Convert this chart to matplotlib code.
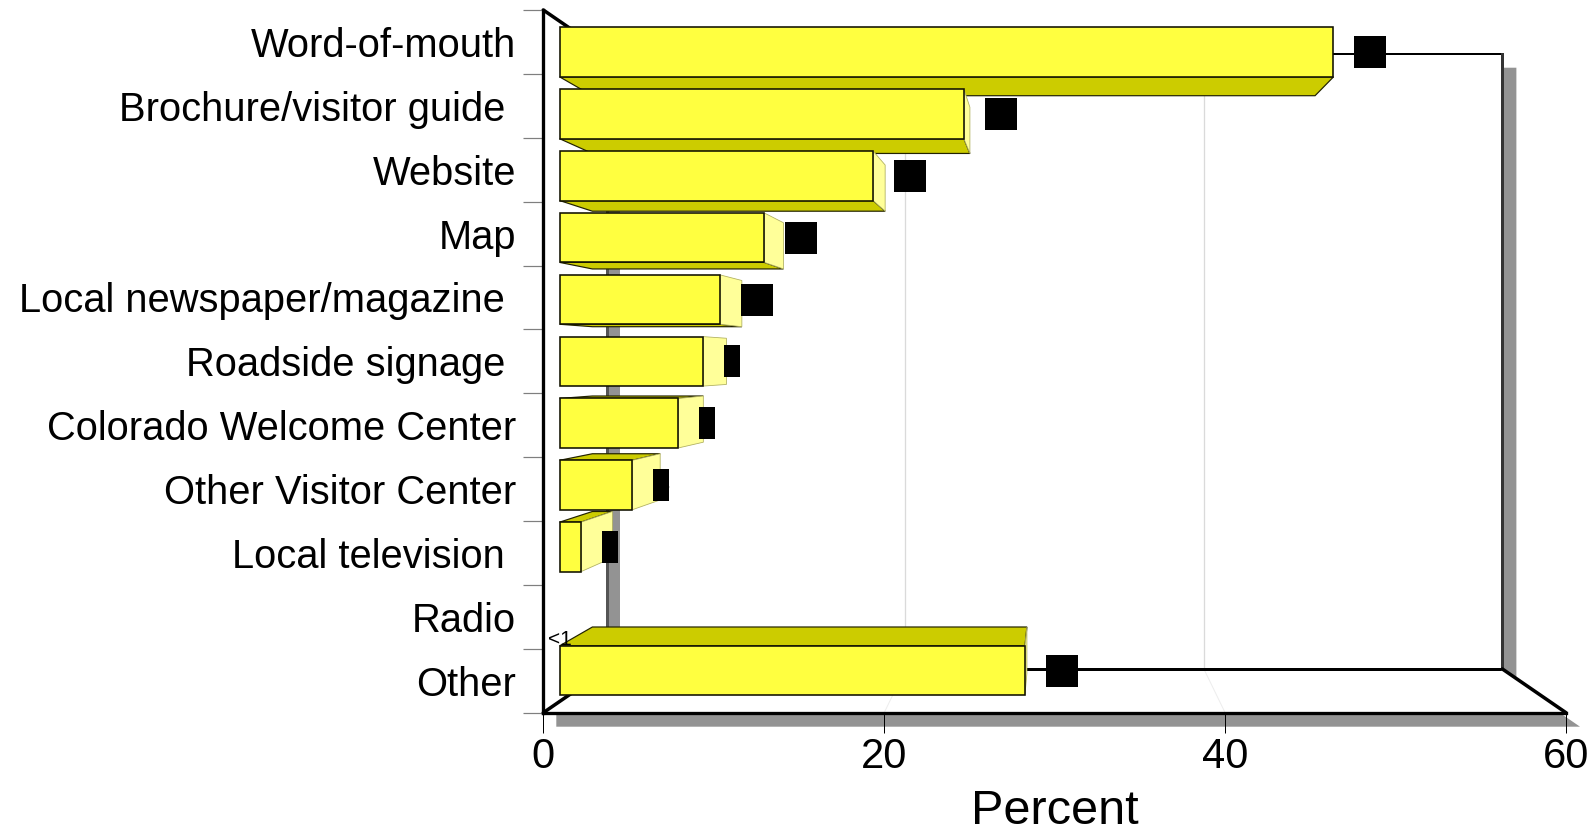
import matplotlib
matplotlib.use("Agg")
import matplotlib.pyplot as plt
from matplotlib.patches import Polygon, Rectangle
from matplotlib import font_manager

# ---- data -------------------------------------------------------------
categories = ["Word-of-mouth", "Brochure/visitor guide ", "Website", "Map",
              "Local newspaper/magazine ", "Roadside signage ",
              "Colorado Welcome Center", "Other Visitor Center",
              "Local television ", "Radio", "Other"]
percent = [46.9, 24.5, 19.0, 12.4, 9.7, 8.7, 7.2, 4.4, 1.3, 0.0, 28.2]
value_labels = ["47", "25", "19", "12", "10", "9", "7", "4", "1", "<1", "28"]
x_ticks = [0, 20, 40, 60]
x_label = "Percent"

# ---- fonts ------------------------------------------------------------
installed = {f.name for f in font_manager.fontManager.ttflist}
if "Liberation Sans Narrow" in installed:
    cat_family, cat_size = "Liberation Sans Narrow", 35
else:
    cat_family, cat_size = "Liberation Sans", 28.7
base_family = "Liberation Sans"

# ---- figure / frame ---------------------------------------------------
W, H, DPI = 1596, 835, 100
fig = plt.figure(figsize=(W / DPI, H / DPI), dpi=DPI)
left_px, right_px, top_px, bottom_px = 543.3, 1566.0, 10.0, 712.7
ax = fig.add_axes([left_px / W, 1 - bottom_px / H,
                   (right_px - left_px) / W, (bottom_px - top_px) / H])
n = len(categories)
XMAX = x_ticks[-1]
ax.set_xlim(0, XMAX)
ax.set_ylim(n - 0.5, -0.5)
ax.patch.set_visible(False)

# pixel -> data unit conversion
PX = XMAX / (right_px - left_px)
PY = n / (bottom_px - top_px)
LW = 0.72  # points per pixel

# perspective: everything recedes toward the centre of the frame
VX, VY = XMAX / 2, (n - 1) / 2
S_FRONT, S_BACK, S_WALL = 0.968, 0.904, 0.8756
HALF = 0.4


def proj(x, y, s):
    return VX + s * (x - VX), VY + s * (y - VY)


ytop, ybot = -0.5, n - 0.5
wl, wt = proj(0, ytop, S_WALL)
wr, wb = proj(XMAX, ybot, S_WALL)

# back wall
ax.add_patch(Rectangle((wl, wt), wr - wl, wb - wt, facecolor="white",
                       edgecolor="none", zorder=0.5))

# drop shadows of the box
SHX, SHY = 14 * PX, 14 * PY
grey = "#939393"
t = SHX / (XMAX - wr)
y_cross = wb + t * (ybot - wb)
ax.add_patch(Polygon([(wr, wt + SHY), (wr + SHX, wt + SHY),
                      (wr + SHX, y_cross), (wr, wb)],
                     closed=True, facecolor=grey, edgecolor="none",
                     zorder=0.6, clip_on=False))
x_top_right = XMAX + SHX - SHY * (XMAX - wr) / (ybot - wb)
ax.add_patch(Polygon([(13 * PX, ybot), (x_top_right, ybot),
                      (XMAX + SHX, ybot + SHY), (13 * PX, ybot + SHY)],
                     closed=True, facecolor=grey, edgecolor="none",
                     zorder=0.6, clip_on=False))
ax.add_patch(Rectangle((wl, wt), 13 * PX, wb - wt, facecolor=grey,
                       edgecolor="none", zorder=0.6))
ax.plot([wl, wl], [wt, wb], color="#555555", lw=3 * LW, zorder=0.65,
        solid_capstyle="butt")

# grid lines on back wall and floor
for g in x_ticks[1:-1]:
    gx0, gy0 = proj(g, ytop, S_WALL)
    gx1, gy1 = proj(g, ybot, S_WALL)
    ax.plot([gx0, gx1], [gy0, gy1], color="#DADADA", lw=1.3 * LW, zorder=0.7)
    ax.plot([gx1, g], [gy1, ybot], color="#EDEDED", lw=1.0 * LW, zorder=0.7)

# wall edges
ax.plot([wl, wr], [wt, wt], color="black", lw=2 * LW, zorder=0.8)
ax.plot([wl, wr], [wb, wb], color="black", lw=3 * LW, zorder=0.8)
ax.plot([wr, wr], [wt, wb], color="#333333", lw=3 * LW, zorder=0.8)

# receding edges from the front frame to the back wall
for (fx, fy), (bx, by) in [((0, ytop), (wl, wt)), ((0, ybot), (wl, wb)),
                           ((XMAX, ybot), (wr, wb))]:
    ax.plot([fx, bx], [fy, by], color="black", lw=3.5 * LW, zorder=0.9,
            solid_capstyle="round", clip_on=False)

# ---- 3D bars ----------------------------------------------------------
FRONT, SHADE, SIDE = "#FFFF40", "#CCCC00", "#FFFF99"
for i, v in enumerate(percent):
    if v <= 0:
        continue
    y0, y1 = i - HALF, i + HALF
    z = 2 + (VY - abs(i - VY)) * 0.05
    if y1 < VY:   # underside visible
        pts = [proj(0, y1, S_FRONT), proj(v, y1, S_FRONT),
               proj(v, y1, S_BACK), proj(0, y1, S_BACK)]
        ax.add_patch(Polygon(pts, closed=True, facecolor=SHADE,
                             edgecolor="#222200", lw=1.2 * LW, zorder=z))
    if y0 > VY:   # top visible
        pts = [proj(0, y0, S_FRONT), proj(v, y0, S_FRONT),
               proj(v, y0, S_BACK), proj(0, y0, S_BACK)]
        ax.add_patch(Polygon(pts, closed=True, facecolor=SHADE,
                             edgecolor="#222200", lw=1.2 * LW, zorder=z))
    if v < VX:    # right end visible
        pts = [proj(v, y0, S_FRONT), proj(v, y0, S_BACK),
               proj(v, y1, S_BACK), proj(v, y1, S_FRONT)]
        ax.add_patch(Polygon(pts, closed=True, facecolor=SIDE,
                             edgecolor="#B0B060", lw=0.8 * LW, zorder=z))
    fx0, fy0 = proj(0, y0, S_FRONT)
    fx1, fy1 = proj(v, y1, S_FRONT)
    ax.add_patch(Rectangle((fx0, fy0), fx1 - fx0, fy1 - fy0,
                           facecolor=FRONT, edgecolor="#111100",
                           lw=1.6 * LW, zorder=z + 0.01))

# ---- value labels -----------------------------------------------------
for i, (v, lab) in enumerate(zip(percent, value_labels)):
    fx, cy = proj(v, i, S_FRONT)
    if lab.isdigit():
        bw, bh = len(lab) * 16 * PX, 32 * PY
        bx = fx + 21 * PX
        ax.add_patch(Rectangle((bx, cy - bh / 2), bw, bh, facecolor="black",
                               edgecolor="none", zorder=5))
        ax.text(bx + bw / 2, cy, lab, ha="center", va="center", color="black",
                fontsize=20.7, family=base_family, zorder=6)
    else:
        lx, ly = proj(0, i + 0.5, S_FRONT)
        ax.text(lx, ly, lab, ha="center", va="center", color="black",
                fontsize=15, family=base_family, zorder=6)

# ---- axes -------------------------------------------------------------
for side in ("top", "right"):
    ax.spines[side].set_visible(False)
for side in ("left", "bottom"):
    ax.spines[side].set_linewidth(3.3 * LW)
    ax.spines[side].set_color("black")
    ax.spines[side].set_zorder(7)

ax.set_xticks(x_ticks)
ax.set_xticklabels([str(t) for t in x_ticks], fontsize=30, family=base_family)
ax.tick_params(axis="x", which="major", direction="out", length=20 * LW,
               width=1.0 * LW, color="black", pad=3)

ax.set_yticks(range(n))
ax.set_yticklabels(categories, fontsize=cat_size, family=cat_family)
ax.tick_params(axis="y", which="major", length=0, pad=19.5)
ax.set_yticks([i - 0.5 for i in range(n + 1)], minor=True)
ax.tick_params(axis="y", which="minor", direction="out", length=20 * LW,
               width=1.2 * LW, color="#7F7F7F")

ax.set_xlabel(x_label, fontsize=35, family=base_family, labelpad=9)

fig.savefig("out.png", dpi=DPI)
